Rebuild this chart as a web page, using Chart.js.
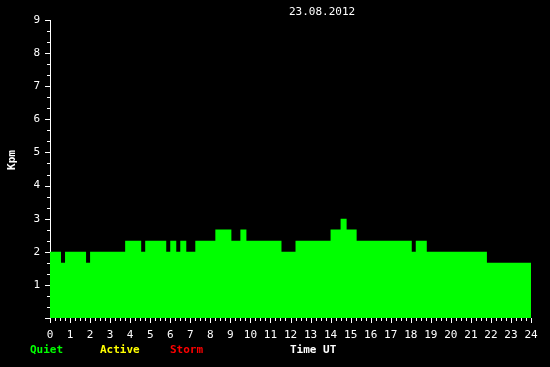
<!DOCTYPE html>
<html>
<head>
<meta charset="utf-8">
<script src="https://cdn.jsdelivr.net/npm/chart.js@4/dist/chart.umd.min.js"></script>
<style>
html,body{margin:0;padding:0;background:#000;}
canvas{display:block;background:#000;}
</style>
</head>
<body>
<canvas id="c" width="550" height="367"></canvas>
<script>
// Step start times (hours UT) and Kp values holding from that time
const times = [0, 0.55, 0.75, 1.8, 2.0, 3.75, 4.55, 4.75, 5.8, 6.0, 6.3, 6.5, 6.8, 7.25, 8.25, 9.05, 9.5, 9.8, 11.55, 12.25, 14.0, 14.5, 14.8, 15.3, 18.05, 18.25, 18.8, 21.8, 24.0];
const kpValues = [2.0, 1.67, 2.0, 1.67, 2.0, 2.33, 2.0, 2.33, 2.0, 2.33, 2.0, 2.33, 2.0, 2.33, 2.67, 2.33, 2.67, 2.33, 2.0, 2.33, 2.67, 3.0, 2.67, 2.33, 2.0, 2.33, 2.0, 1.67, 1.67];
const xTicks = [0, 24];
const yTicks = [0, 9];
const title = "23.08.2012";
const yTitle = "Kpm";
const legendItems = ["Quiet", "Active", "Storm"];
const legendColors = ["#00ff00", "#ffff00", "#ff0000"];
const xTitle = "Time UT";

const MONO = "'DejaVu Sans Mono', 'Liberation Mono', monospace";

const extras = {
  id: 'extras',
  afterDraw(chart) {
    const ctx = chart.ctx;
    const xs = chart.scales.x, ys = chart.scales.y;
    ctx.save();
    ctx.strokeStyle = '#fff';
    ctx.lineWidth = 1;
    ctx.beginPath();
    // y ticks every 1/3
    for (let i = 0; i <= yTicks[1] * 3; i++) {
      const y = Math.round(ys.getPixelForValue(i / 3)) + 0.5;
      const len = (i % 3 === 0) ? 5 : 3;
      ctx.moveTo(xs.left - len, y);
      ctx.lineTo(xs.left, y);
    }
    // x ticks every 15 minutes
    for (let i = 0; i <= xTicks[1] * 4; i++) {
      const x = Math.round(xs.getPixelForValue(i / 4)) + 0.5;
      const len = (i % 4 === 0) ? 5 : 3;
      ctx.moveTo(x, ys.bottom);
      ctx.lineTo(x, ys.bottom + len);
    }
    ctx.stroke();

    ctx.fillStyle = '#fff';
    ctx.font = "11px " + MONO;
    ctx.textAlign = 'left';
    ctx.textBaseline = 'middle';
    ctx.fillText(title, 289, 12);

    ctx.font = "bold 11px " + MONO;
    ctx.save();
    ctx.translate(12, 160);
    ctx.rotate(-Math.PI / 2);
    ctx.textAlign = 'center';
    ctx.fillText(yTitle, 0, 0);
    ctx.restore();

    const lx = [30, 100, 170];
    legendItems.forEach((t, i) => {
      ctx.fillStyle = legendColors[i];
      ctx.fillText(t, lx[i], 350);
    });
    ctx.fillStyle = '#fff';
    ctx.fillText(xTitle, 290, 350);
    ctx.restore();
  }
};

new Chart(document.getElementById('c'), {
  type: 'line',
  data: {
    datasets: [{
      data: times.map((t, i) => ({ x: t, y: kpValues[i] })),
      stepped: 'before',
      fill: 'origin',
      backgroundColor: '#00ff00',
      borderColor: 'rgba(0,0,0,0)',
      pointRadius: 0,
      tension: 0
    }]
  },
  options: {
    responsive: false,
    animation: false,
    devicePixelRatio: 1,
    layout: { padding: { left: 0, right: 19, top: 20, bottom: 0 } },
    plugins: { legend: { display: false }, tooltip: { enabled: false }, title: { display: false } },
    scales: {
      x: {
        type: 'linear',
        min: xTicks[0], max: xTicks[1],
        grid: { display: false, drawTicks: false },
        border: { display: false },
        afterFit(s) { s.height = 49; },
        ticks: {
          stepSize: 1, autoSkip: false, maxRotation: 0, minRotation: 0,
          color: '#fff', padding: 11,
          font: { family: MONO, size: 11 }
        }
      },
      y: {
        type: 'linear',
        min: yTicks[0], max: yTicks[1],
        grid: { display: false, drawTicks: false },
        border: { display: true, color: '#fff', width: 1 },
        afterFit(s) { s.width = 50; },
        ticks: {
          stepSize: 1, color: '#fff', padding: 10,
          font: { family: MONO, size: 11 },
          callback: v => v === 0 ? '' : v
        }
      }
    }
  },
  plugins: [extras]
});
</script>
</body>
</html>
